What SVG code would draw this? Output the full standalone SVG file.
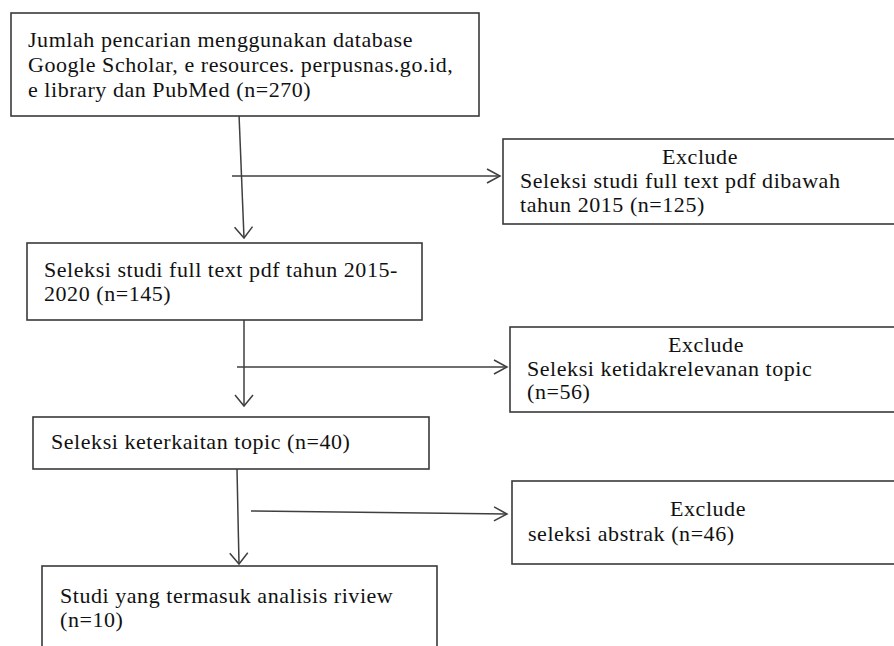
<svg xmlns="http://www.w3.org/2000/svg" width="894" height="646" viewBox="0 0 894 646">
<style>
.box{fill:#fff;stroke:#3a3a3a;stroke-width:1.6}
.t{font-family:'Liberation Serif','Times New Roman',serif;font-size:22px;fill:#111;letter-spacing:0.55px}
.c{text-anchor:middle}
.ln{fill:none;stroke:#3f3f3f;stroke-width:1.5}
</style>
<defs>
<marker id="av" markerUnits="userSpaceOnUse" markerWidth="30" markerHeight="30" viewBox="-15 -15 30 30" refX="0" refY="0" orient="auto">
<path d="M-11,-9 L0,0 L-11,9" fill="none" stroke="#3f3f3f" stroke-width="1.5"/>
</marker>
<marker id="ah" markerUnits="userSpaceOnUse" markerWidth="30" markerHeight="30" viewBox="-15 -15 30 30" refX="0" refY="0" orient="auto">
<path d="M-13,-7 L0,0 L-13,7" fill="none" stroke="#3f3f3f" stroke-width="1.5"/>
</marker>
</defs>
<rect width="894" height="646" fill="#fff"/>
<g id="connectors">
<path class="ln" d="M239,114 L244,238" marker-end="url(#av)"/>
<path class="ln" d="M232,176 L500,176" marker-end="url(#ah)"/>
<path class="ln" d="M244,320 L244,406" marker-end="url(#av)"/>
<path class="ln" d="M237,367 L507,367" marker-end="url(#ah)"/>
<path class="ln" d="M237,469 L239,564" marker-end="url(#av)"/>
<path class="ln" d="M251,511 L507,514" marker-end="url(#ah)"/>
</g>
<g id="n1">
<rect class="box" x="11" y="13" width="468" height="103"/>
<text class="t" x="28" y="47">Jumlah pencarian menggunakan database</text>
<text class="t" x="28" y="72">Google Scholar, e resources. perpusnas.go.id,</text>
<text class="t" x="28" y="97">e library dan PubMed (n=270)</text>
</g>
<g id="n2">
<rect class="box" x="503" y="139" width="420" height="85"/>
<text class="t c" x="700" y="164">Exclude</text>
<text class="t" x="520" y="188">Seleksi studi full text pdf dibawah</text>
<text class="t" x="520" y="212">tahun 2015 (n=125)</text>
</g>
<g id="n3">
<rect class="box" x="27" y="243" width="395" height="77"/>
<text class="t" x="44" y="277">Seleksi studi full text pdf tahun 2015-</text>
<text class="t" x="44" y="301">2020 (n=145)</text>
</g>
<g id="n4">
<rect class="box" x="510" y="327" width="420" height="85"/>
<text class="t c" x="706" y="352">Exclude</text>
<text class="t" x="527" y="376">Seleksi ketidakrelevanan topic</text>
<text class="t" x="527" y="399">(n=56)</text>
</g>
<g id="n5">
<rect class="box" x="33" y="417" width="396" height="52"/>
<text class="t" x="51" y="449">Seleksi keterkaitan topic (n=40)</text>
</g>
<g id="n6">
<rect class="box" x="512" y="481" width="420" height="83"/>
<text class="t c" x="708" y="516">Exclude</text>
<text class="t" x="528" y="541">seleksi abstrak (n=46)</text>
</g>
<g id="n7">
<rect class="box" x="42" y="566" width="395" height="100"/>
<text class="t" x="60" y="603">Studi yang termasuk analisis riview</text>
<text class="t" x="60" y="627">(n=10)</text>
</g>
</svg>
